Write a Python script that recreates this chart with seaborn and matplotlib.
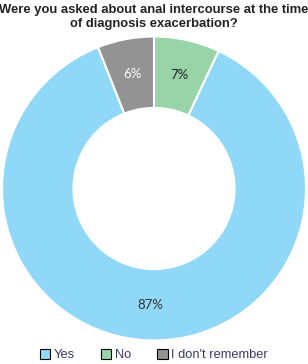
import matplotlib
matplotlib.use("Agg")
import matplotlib.pyplot as plt
import seaborn as sns
import numpy as np
from matplotlib.patches import Patch

sns.set_theme(style="white")
plt.rcParams['font.family'] = ['Liberation Sans', 'DejaVu Sans']

title = "Were you asked about anal intercourse at the time\nof diagnosis exacerbation?"
categories = ["Yes", "No", "I don't remember"]
values = [87, 7, 6]
colors = ["#8fd8f7", "#99d4a9", "#939393"]
label_colors = ["#333333", "#222222", "#ffffff"]

# drawing order (clockwise from top): No, Yes, I don't remember
order = [1, 0, 2]

fig = plt.figure(figsize=(3.08, 3.64), dpi=100)
ax = fig.add_axes([2/308, 23/364, 304/308, 305/364])
wedges, _ = ax.pie([values[i] for i in order], colors=[colors[i] for i in order],
                   startangle=90, counterclock=False, radius=1,
                   wedgeprops=dict(width=0.47, edgecolor="white", linewidth=1.5))
for w, i in zip(wedges, order):
    ang = np.deg2rad((w.theta1 + w.theta2) / 2)
    r = 0.765
    ax.text(r*np.cos(ang), r*np.sin(ang), f"{values[i]}%", ha="center", va="center",
            fontsize=9.5, color=label_colors[i], family=['Lato', 'DejaVu Sans'])
ax.set_xlim(-1, 1)
ax.set_ylim(-1, 1)
ax.set_aspect("equal")
ax.axis("off")

fig.text(0.5, 1 - 4/364, title, ha="center", va="top", fontsize=9.4,
         fontweight="bold", color="#222222", linespacing=1.25)

handles = [Patch(facecolor=c, edgecolor="black", linewidth=0.8) for c in colors]
fig.legend(handles, categories, loc="lower center", bbox_to_anchor=(0.5, -0.025),
           ncol=3, frameon=False, fontsize=9.3, handlelength=0.8, handleheight=0.8,
           handletextpad=0.3, columnspacing=2.0, labelcolor="#3a3a6a")

fig.savefig("out.png", dpi=100)
